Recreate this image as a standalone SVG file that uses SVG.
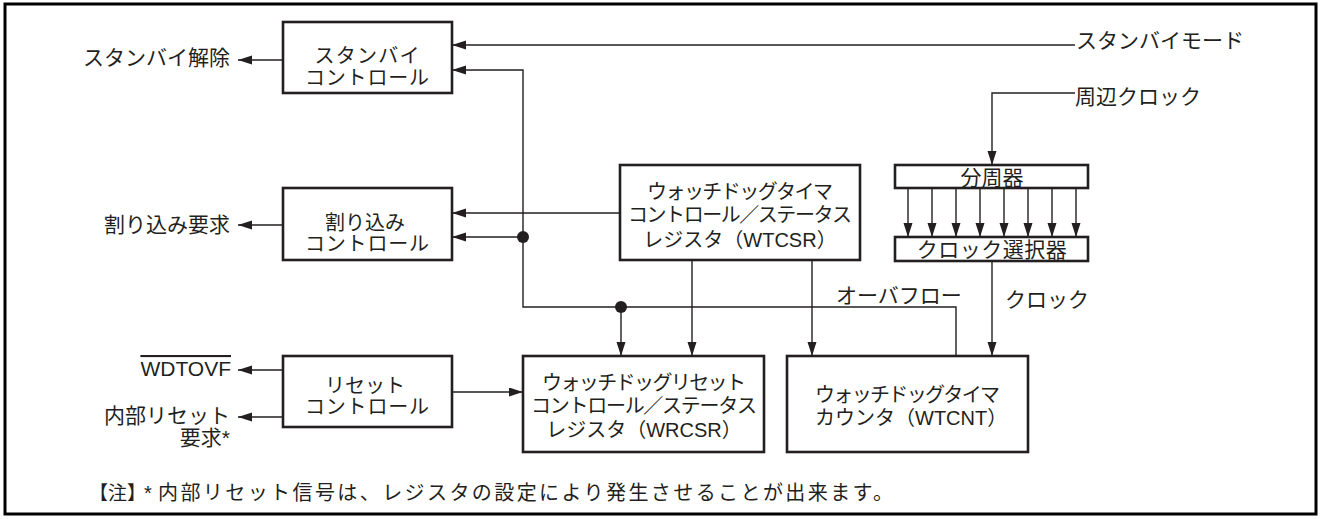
<svg xmlns="http://www.w3.org/2000/svg" width="1324" height="519" viewBox="0 0 1324 519">
<defs>
<style>
text{font-family:"Liberation Sans","Noto Sans CJK JP",sans-serif;fill:#231f20;}
.bx{fill:#fff;stroke:#231f20;stroke-width:2.6;}
.t{font-size:20px;text-anchor:middle;}
.lbl{font-size:21px;}
.c{fill:none;stroke:#231f20;stroke-width:1.4;}
.a{marker-end:url(#ah);}
</style>
<marker id="ah" markerUnits="userSpaceOnUse" markerWidth="15" markerHeight="10" refX="14" refY="4.5" orient="auto">
<path d="M0,0 L14,4.5 L0,9 z" fill="#231f20"/>
</marker>
</defs>
<rect x="0" y="0" width="1324" height="519" fill="#fff"/>
<rect x="5" y="4" width="1311" height="510" fill="none" stroke="#000" stroke-width="3"/>

<g id="connectors">
<path class="c a" d="M1075,45 H452"/>
<path class="c a" d="M283,60 H238"/>
<path class="c a" d="M283,225 H238"/>
<path class="c a" d="M620,213 H452"/>
<path class="c a" d="M956,356 V307 H523 V70 H452"/>
<path class="c a" d="M523,237 H452"/>
<circle cx="523" cy="237" r="6" fill="#231f20"/>
<circle cx="621" cy="307" r="6" fill="#231f20"/>
<path class="c a" d="M621,307 V356"/>
<path class="c a" d="M692,260 V356"/>
<path class="c a" d="M812,260 V356"/>
<path class="c a" d="M992,261 V356"/>
<path class="c a" d="M1075,93 H992 V165"/>
<path class="c a" d="M908,188 V237"/>
<path class="c a" d="M932,188 V237"/>
<path class="c a" d="M956,188 V237"/>
<path class="c a" d="M980,188 V237"/>
<path class="c a" d="M1004,188 V237"/>
<path class="c a" d="M1028,188 V237"/>
<path class="c a" d="M1052,188 V237"/>
<path class="c a" d="M1076,188 V237"/>
<path class="c a" d="M283,370 H238"/>
<path class="c a" d="M283,417 H238"/>
<path class="c a" d="M452,392 H523"/>
</g>

<g id="standby-control">
<rect class="bx" x="283" y="22" width="169" height="71"/>
<text class="t" x="367" y="63" textLength="105" lengthAdjust="spacing">スタンバイ</text>
<text class="t" x="367" y="85" textLength="124" lengthAdjust="spacing">コントロール</text>
</g>
<g id="interrupt-control">
<rect class="bx" x="283" y="188" width="169" height="72"/>
<text class="t" x="365" y="230">割り込み</text>
<text class="t" x="367" y="251" textLength="124" lengthAdjust="spacing">コントロール</text>
</g>
<g id="reset-control">
<rect class="bx" x="283" y="356" width="169" height="71"/>
<text class="t" x="365" y="393">リセット</text>
<text class="t" x="367" y="414" textLength="124" lengthAdjust="spacing">コントロール</text>
</g>
<g id="wtcsr">
<rect class="bx" x="620" y="165" width="240" height="95"/>
<text class="t" x="740" y="199" textLength="186" lengthAdjust="spacing">ウォッチドッグタイマ</text>
<text class="t" x="740" y="222" textLength="224" lengthAdjust="spacing">コントロール／ステータス</text>
<text class="t" x="740" y="247">レジスタ（WTCSR）</text>
</g>
<g id="wrcsr">
<rect class="bx" x="523" y="356" width="241" height="96"/>
<text class="t" x="644" y="390" textLength="204" lengthAdjust="spacing">ウォッチドッグリセット</text>
<text class="t" x="644" y="413" textLength="226" lengthAdjust="spacing">コントロール／ステータス</text>
<text class="t" x="644" y="437">レジスタ（WRCSR）</text>
</g>
<g id="wtcnt">
<rect class="bx" x="787" y="356" width="241" height="96"/>
<text x="815" y="402" style="font-size:20px" textLength="185" lengthAdjust="spacing">ウォッチドッグタイマ</text>
<text x="815" y="425" style="font-size:20px">カウンタ（WTCNT）</text>
</g>
<g id="divider">
<rect class="bx" x="895" y="165" width="193" height="23"/>
<text class="t" x="992" y="185" style="font-size:21px">分周器</text>
</g>
<g id="clock-selector">
<rect class="bx" x="895" y="237" width="193" height="24"/>
<text class="t" x="992" y="257" style="font-size:21px;letter-spacing:0.5px">クロック選択器</text>
</g>

<g id="labels">
<text class="lbl" x="230" y="65" text-anchor="end">スタンバイ解除</text>
<text class="lbl" x="230" y="232" text-anchor="end">割り込み要求</text>
<text x="231" y="376" text-anchor="end" style="font-size:21px;text-decoration:overline">WDTOVF</text>
<text class="lbl" x="230" y="423" text-anchor="end">内部リセット</text>
<text class="lbl" x="230" y="445" text-anchor="end">要求*</text>
<text class="lbl" x="1076" y="48">スタンバイモード</text>
<text class="lbl" x="1075" y="104">周辺クロック</text>
<text class="lbl" x="836" y="303">オーバフロー</text>
<text class="lbl" x="1005" y="307">クロック</text>
<text x="89" y="500" style="font-size:19px">【注】</text>
<text x="144" y="500" style="font-size:20px">*</text>
<text x="158" y="500" style="font-size:20px" textLength="735" lengthAdjust="spacing">内部リセット信号は、レジスタの設定により発生させることが出来ます。</text>
</g>
</svg>
